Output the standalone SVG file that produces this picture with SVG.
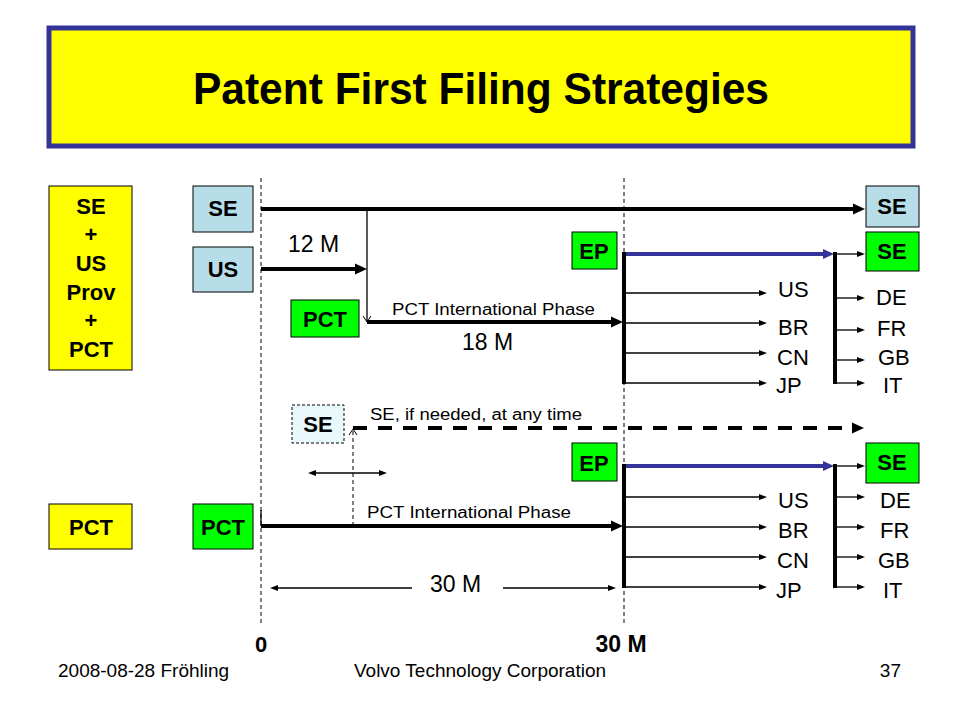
<svg xmlns="http://www.w3.org/2000/svg" width="960" height="720" viewBox="0 0 960 720">
<defs>
<style>
text{font-family:"Liberation Sans",Arial,sans-serif;fill:#000}
.b{font-weight:bold;font-size:22px;text-anchor:middle}
.lbl{font-size:22px}
.m{font-size:23px}
.sm{font-size:16px}
.bx{stroke:#000;stroke-width:1}
.lb{fill:#B7DEE8}
.gr{fill:#00FF00}
.ye{fill:#FFFF00}
.thick{stroke:#000;stroke-width:4;fill:none}
.blue{stroke:#333399;stroke-width:4;fill:none}
.thin{stroke:#000;stroke-width:1.3;fill:none}
.grid{stroke:#000;stroke-width:1;stroke-dasharray:4,3;fill:none}
</style>
<marker id="ah" markerUnits="userSpaceOnUse" markerWidth="12" markerHeight="12" refX="1" refY="6" orient="auto"><path d="M0,0.5 L12,6 L0,11.5 z" fill="#000"/></marker>
<marker id="ahb" markerUnits="userSpaceOnUse" markerWidth="12" markerHeight="12" refX="1" refY="6" orient="auto"><path d="M0,1 L11,6 L0,11 z" fill="#333399"/></marker>
<marker id="at" markerUnits="userSpaceOnUse" markerWidth="8" markerHeight="8" refX="1" refY="4" orient="auto"><path d="M0,1 L8,4 L0,7 z" fill="#000"/></marker>
<marker id="ats" markerUnits="userSpaceOnUse" markerWidth="8" markerHeight="8" refX="1" refY="4" orient="auto-start-reverse"><path d="M0,1 L8,4 L0,7 z" fill="#000"/></marker>
<marker id="ao" markerUnits="userSpaceOnUse" markerWidth="10" markerHeight="10" refX="8" refY="5" orient="auto"><path d="M2,1 L8,5 L2,9" fill="none" stroke="#000" stroke-width="1"/></marker>
</defs>
<rect width="960" height="720" fill="#fff"/>

<g id="title">
<rect x="49" y="28" width="864" height="118" fill="#FFFF00" stroke="#333399" stroke-width="5"/>
<text x="481" y="104" text-anchor="middle" font-weight="bold" font-size="44" textLength="576" lengthAdjust="spacingAndGlyphs">Patent First Filing Strategies</text>
</g>

<g id="connectors">
<line class="grid" x1="261" y1="178" x2="261" y2="625"/>
<line class="grid" x1="624" y1="178" x2="624" y2="625"/>
<!-- top strategy -->
<line class="thick" x1="261" y1="209" x2="854" y2="209" marker-end="url(#ah)"/>
<line class="thick" x1="261" y1="269" x2="356" y2="269" marker-end="url(#ah)"/>
<line class="thin" x1="367" y1="209" x2="367" y2="322" stroke-width="1" marker-end="url(#ao)"/>
<line class="thick" x1="367" y1="322" x2="612" y2="322" marker-end="url(#ah)"/>
<line class="blue" x1="624" y1="254" x2="824" y2="254" marker-end="url(#ahb)"/>
<line class="thick" x1="624" y1="252" x2="624" y2="384"/>
<line class="thin" x1="624" y1="293" x2="760" y2="293" marker-end="url(#at)"/>
<line class="thin" x1="624" y1="323" x2="760" y2="323" marker-end="url(#at)"/>
<line class="thin" x1="624" y1="353" x2="760" y2="353" marker-end="url(#at)"/>
<line class="thin" x1="624" y1="383" x2="760" y2="383" marker-end="url(#at)"/>
<line class="thick" x1="835" y1="252" x2="835" y2="384"/>
<line class="thin" x1="835" y1="254" x2="858" y2="254" marker-end="url(#at)"/>
<line class="thin" x1="835" y1="298" x2="858" y2="298" marker-end="url(#at)"/>
<line class="thin" x1="835" y1="330" x2="858" y2="330" marker-end="url(#at)"/>
<line class="thin" x1="835" y1="360" x2="858" y2="360" marker-end="url(#at)"/>
<line class="thin" x1="835" y1="383" x2="858" y2="383" marker-end="url(#at)"/>
<!-- bottom strategy -->
<line x1="353" y1="428" x2="853" y2="428" stroke="#000" stroke-width="4" stroke-dasharray="14,11" marker-end="url(#ah)"/>
<line x1="353" y1="526" x2="353" y2="429" stroke="#000" stroke-width="1" stroke-dasharray="4,3" marker-end="url(#ao)"/>
<line class="thin" x1="315" y1="473" x2="380" y2="473" marker-start="url(#ats)" marker-end="url(#at)"/>
<line class="thick" x1="261" y1="526" x2="612" y2="526" marker-end="url(#ah)"/>
<line class="thin" x1="261" y1="510" x2="261" y2="526"/>
<line class="thin" x1="277" y1="588" x2="412" y2="588" marker-start="url(#ats)"/>
<line class="thin" x1="503" y1="588" x2="609" y2="588" marker-end="url(#at)"/>
<line class="blue" x1="624" y1="466" x2="824" y2="466" marker-end="url(#ahb)"/>
<line class="thick" x1="624" y1="464" x2="624" y2="588"/>
<line class="thin" x1="624" y1="497" x2="760" y2="497" marker-end="url(#at)"/>
<line class="thin" x1="624" y1="527" x2="760" y2="527" marker-end="url(#at)"/>
<line class="thin" x1="624" y1="557" x2="760" y2="557" marker-end="url(#at)"/>
<line class="thin" x1="624" y1="587" x2="760" y2="587" marker-end="url(#at)"/>
<line class="thick" x1="835" y1="464" x2="835" y2="588"/>
<line class="thin" x1="835" y1="466" x2="858" y2="466" marker-end="url(#at)"/>
<line class="thin" x1="835" y1="497" x2="858" y2="497" marker-end="url(#at)"/>
<line class="thin" x1="835" y1="527" x2="858" y2="527" marker-end="url(#at)"/>
<line class="thin" x1="835" y1="557" x2="858" y2="557" marker-end="url(#at)"/>
<line class="thin" x1="835" y1="587" x2="858" y2="587" marker-end="url(#at)"/>
</g>

<g id="labels">
<text x="288" y="252" class="m">12 M</text>
<text x="392" y="315" class="sm" textLength="203" lengthAdjust="spacingAndGlyphs">PCT International Phase</text>
<text x="462" y="350" class="m">18 M</text>
<text x="778" y="297" class="lbl">US</text>
<text x="778" y="335" class="lbl">BR</text>
<text x="777" y="365" class="lbl">CN</text>
<text x="776" y="393" class="lbl">JP</text>
<text x="876" y="305" class="lbl">DE</text>
<text x="877" y="336" class="lbl">FR</text>
<text x="878" y="365" class="lbl">GB</text>
<text x="883" y="393" class="lbl">IT</text>
<text x="370" y="420" class="sm" textLength="212" lengthAdjust="spacingAndGlyphs">SE, if needed, at any time</text>
<text x="367" y="518" class="sm" textLength="204" lengthAdjust="spacingAndGlyphs">PCT International Phase</text>
<text x="430" y="592" class="m">30 M</text>
<text x="778" y="508" class="lbl">US</text>
<text x="778" y="538" class="lbl">BR</text>
<text x="777" y="568" class="lbl">CN</text>
<text x="776" y="598" class="lbl">JP</text>
<text x="880" y="508" class="lbl">DE</text>
<text x="880" y="538" class="lbl">FR</text>
<text x="878" y="568" class="lbl">GB</text>
<text x="883" y="598" class="lbl">IT</text>
<text x="261" y="652" class="b" font-size="23">0</text>
<text x="621" y="652" class="b" style="font-size:23px">30 M</text>
</g>

<g id="node-strategy1">
<rect x="49" y="186" width="83" height="184" class="bx ye"/>
<text x="91" y="214" class="b">SE</text>
<text x="91" y="242" class="b">+</text>
<text x="91" y="271" class="b">US</text>
<text x="91" y="300" class="b">Prov</text>
<text x="91" y="328" class="b">+</text>
<text x="91" y="357" class="b">PCT</text>
</g>
<g id="node-se1">
<rect x="193" y="186" width="60" height="46" class="bx lb"/>
<text x="223" y="216" class="b">SE</text>
</g>
<g id="node-us">
<rect x="193" y="247" width="60" height="45" class="bx lb"/>
<text x="223" y="277" class="b">US</text>
</g>
<g id="node-pct1">
<rect x="291" y="300" width="68" height="37" class="bx gr"/>
<text x="325" y="327" class="b">PCT</text>
</g>
<g id="node-ep1">
<rect x="572" y="232" width="45" height="37" class="bx gr"/>
<text x="594" y="259" class="b">EP</text>
</g>
<g id="node-se-nat1">
<rect x="866" y="186" width="53" height="41" class="bx lb"/>
<text x="892" y="214" class="b">SE</text>
</g>
<g id="node-se-ep1">
<rect x="866" y="232" width="53" height="39" class="bx gr"/>
<text x="892" y="259" class="b">SE</text>
</g>

<g id="node-se-opt">
<rect x="292" y="405" width="52" height="38" fill="#E8F8FB" stroke="#000" stroke-width="1" stroke-dasharray="3,2"/>
<text x="318" y="432" class="b">SE</text>
</g>
<g id="node-strategy2">
<rect x="49" y="504" width="83" height="45" class="bx ye"/>
<text x="91" y="535" class="b">PCT</text>
</g>
<g id="node-pct2">
<rect x="193" y="504" width="60" height="45" class="bx gr"/>
<text x="223" y="535" class="b">PCT</text>
</g>
<g id="node-ep2">
<rect x="572" y="443" width="45" height="38" class="bx gr"/>
<text x="594" y="471" class="b">EP</text>
</g>
<g id="node-se-ep2">
<rect x="866" y="443" width="53" height="40" class="bx gr"/>
<text x="892" y="470" class="b">SE</text>
</g>

<g id="footer">
<text x="58" y="677" font-size="19">2008-08-28 Fröhling</text>
<text x="480" y="677" font-size="19" text-anchor="middle">Volvo Technology Corporation</text>
<text x="901" y="677" font-size="19" text-anchor="end">37</text>
</g>
</svg>
